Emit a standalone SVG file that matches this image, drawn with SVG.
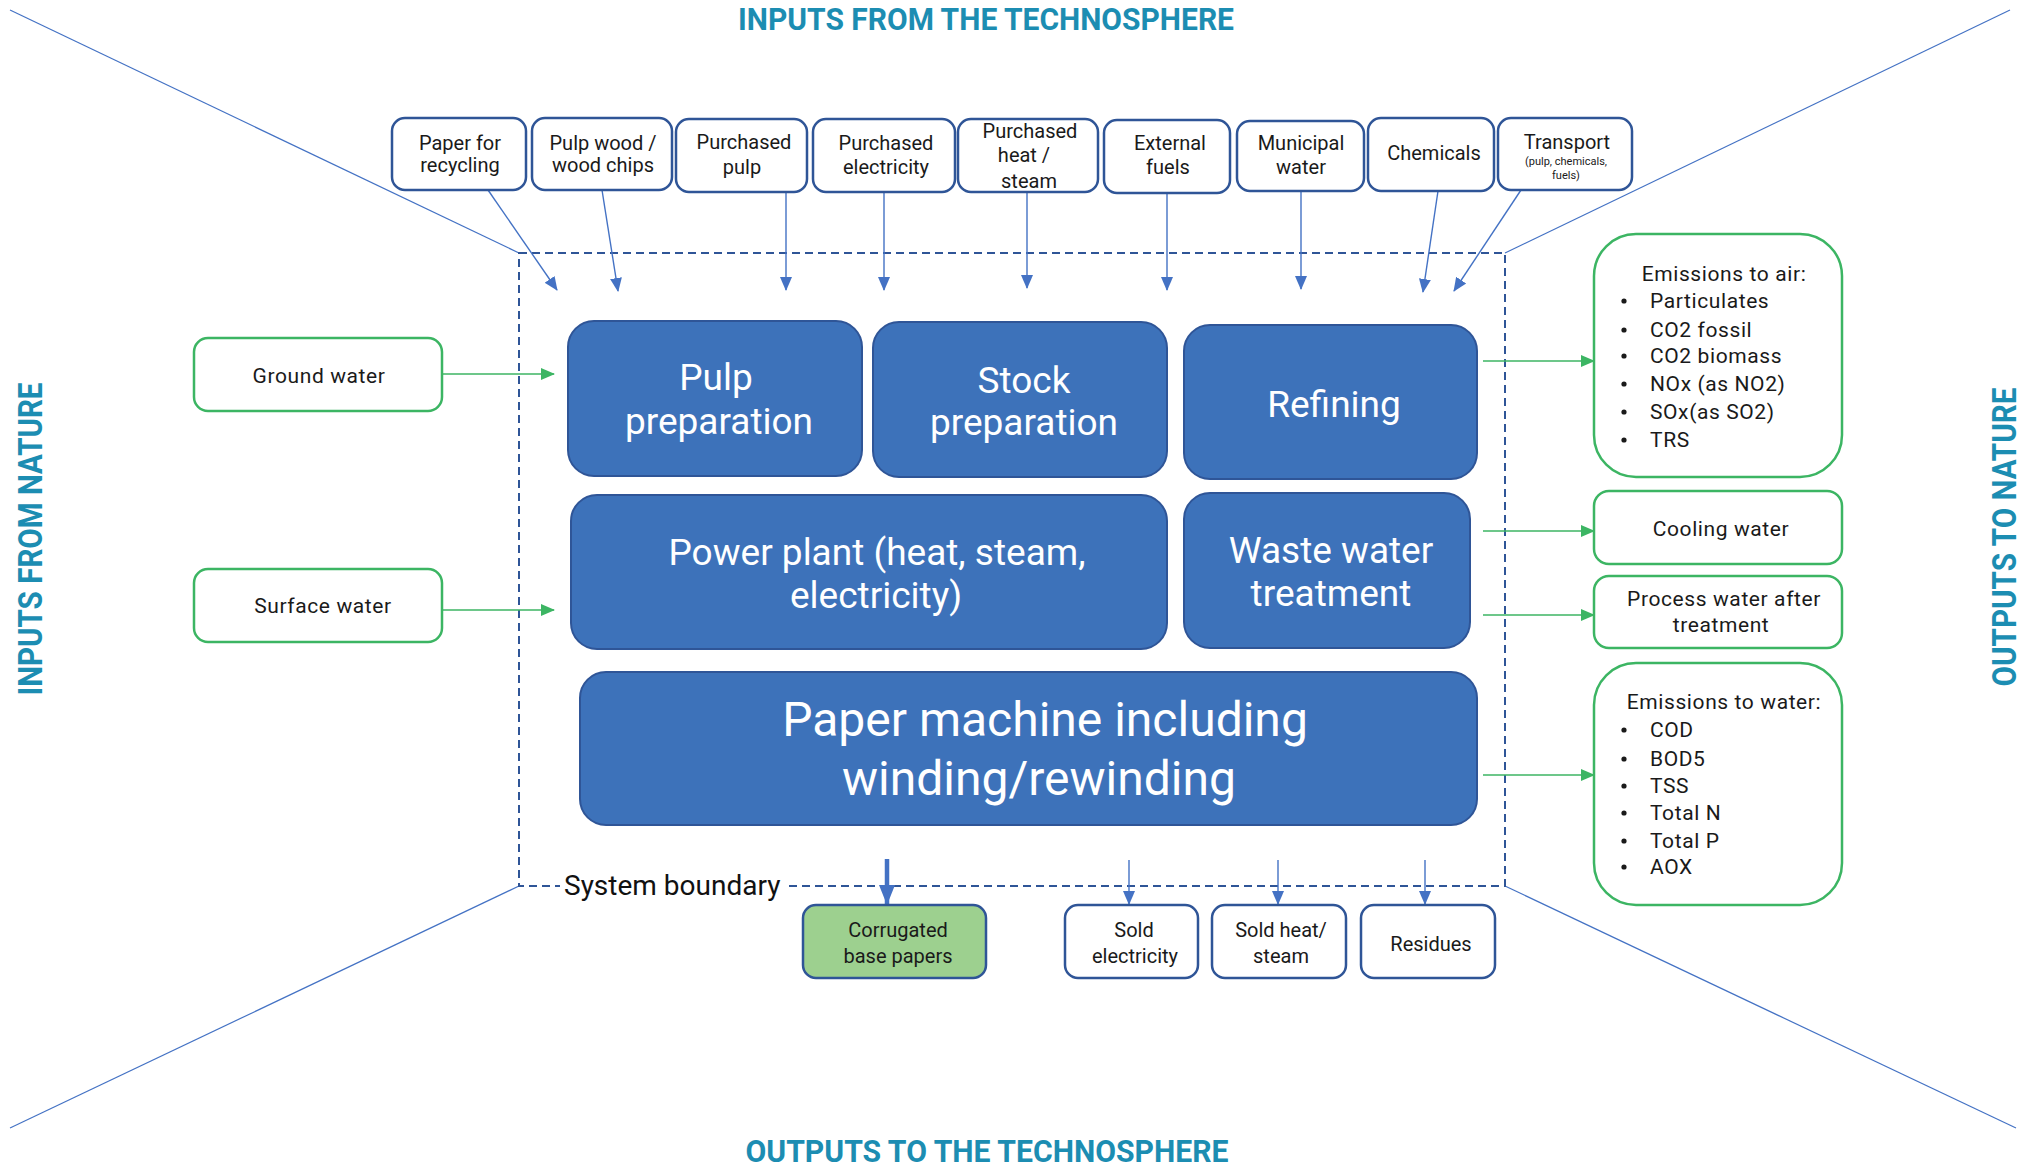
<svg xmlns="http://www.w3.org/2000/svg" width="2031" height="1168" viewBox="0 0 2031 1168">
<style>
  .title{font-family:Roboto,"Liberation Sans",sans-serif;font-weight:bold;fill:#1C8DB2;}
  .inbox{fill:#fff;stroke:#2F5597;stroke-width:2.5;}
  .lbl{font-family:Roboto,"Liberation Sans",sans-serif;font-size:20px;fill:#1a1a1a;text-anchor:middle;}
  .proc{fill:#3D72BA;stroke:#2F5597;stroke-width:2;}
  .ptxt{font-family:Roboto,"Liberation Sans",sans-serif;font-size:37px;fill:#fff;text-anchor:middle;}
  .gbox{fill:#fff;stroke:#3CB563;stroke-width:2.5;}
  .gtxt{font-family:Roboto,"Liberation Sans",sans-serif;font-size:21px;fill:#1a1a1a;letter-spacing:0.6px;}
  .blue{stroke:#4472C4;stroke-width:1.4;fill:none;}
  .green{stroke:#3CB563;stroke-width:1.6;fill:none;}
  .diag{stroke:#4472C4;stroke-width:1.2;fill:none;}
</style>
<defs>
  <marker id="ab" markerUnits="userSpaceOnUse" markerWidth="14" markerHeight="14" viewBox="0 0 14 14" refX="13" refY="7" orient="auto">
    <path d="M0,1 L14,7 L0,13 Z" fill="#4472C4"/>
  </marker>
  <marker id="abig" markerUnits="userSpaceOnUse" markerWidth="20" markerHeight="18" viewBox="0 0 20 18" refX="19" refY="9" orient="auto">
    <path d="M0,1 L20,9 L0,17 Z" fill="#4472C4"/>
  </marker>
  <marker id="ag" markerUnits="userSpaceOnUse" markerWidth="14" markerHeight="14" viewBox="0 0 14 14" refX="13" refY="7" orient="auto">
    <path d="M0,1 L14,7 L0,13 Z" fill="#3CB563"/>
  </marker>
</defs>
<rect width="2031" height="1168" fill="#fff"/>

<!-- titles -->
<text class="title" x="986" y="30" font-size="32" text-anchor="middle" textLength="496" lengthAdjust="spacingAndGlyphs">INPUTS FROM THE TECHNOSPHERE</text>
<text class="title" x="987" y="1162" font-size="32" text-anchor="middle" textLength="483" lengthAdjust="spacingAndGlyphs">OUTPUTS TO THE TECHNOSPHERE</text>
<text class="title" transform="translate(42,539) rotate(-90)" font-size="33" text-anchor="middle" textLength="313" lengthAdjust="spacingAndGlyphs">INPUTS FROM NATURE</text>
<text class="title" transform="translate(2016,537) rotate(-90)" font-size="33" text-anchor="middle" textLength="299" lengthAdjust="spacingAndGlyphs">OUTPUTS TO NATURE</text>

<!-- diagonal frame lines and system boundary -->
<g id="frame">
  <line class="diag" x1="10" y1="10" x2="519" y2="253"/>
  <line class="diag" x1="2010" y1="10" x2="1505" y2="253"/>
  <line class="diag" x1="10" y1="1128" x2="519" y2="886"/>
  <line class="diag" x1="2016" y1="1128" x2="1505" y2="886"/>
  <rect x="519" y="253" width="986" height="633" fill="none" stroke="#2F5597" stroke-width="2" stroke-dasharray="8,5"/>
  <rect x="560" y="870" width="224" height="34" fill="#fff"/>
  <text x="564" y="895" font-family="Roboto,'Liberation Sans',sans-serif" font-size="28" fill="#111">System boundary</text>
</g>

<!-- connectors -->
<g id="connectors">
  <line class="blue" x1="488" y1="190" x2="557" y2="290" marker-end="url(#ab)"/>
  <line class="blue" x1="602" y1="190" x2="618" y2="291" marker-end="url(#ab)"/>
  <line class="blue" x1="786" y1="192" x2="786" y2="290" marker-end="url(#ab)"/>
  <line class="blue" x1="884" y1="192" x2="884" y2="290" marker-end="url(#ab)"/>
  <line class="blue" x1="1027" y1="190" x2="1027" y2="288" marker-end="url(#ab)"/>
  <line class="blue" x1="1167" y1="193" x2="1167" y2="290" marker-end="url(#ab)"/>
  <line class="blue" x1="1301" y1="191" x2="1301" y2="289" marker-end="url(#ab)"/>
  <line class="blue" x1="1438" y1="191" x2="1423" y2="292" marker-end="url(#ab)"/>
  <line class="blue" x1="1521" y1="190" x2="1454" y2="291" marker-end="url(#ab)"/>

  <line class="green" x1="442" y1="374" x2="554" y2="374" marker-end="url(#ag)"/>
  <line class="green" x1="442" y1="610" x2="554" y2="610" marker-end="url(#ag)"/>

  <line class="green" x1="1483" y1="361" x2="1594" y2="361" marker-end="url(#ag)"/>
  <line class="green" x1="1483" y1="531" x2="1594" y2="531" marker-end="url(#ag)"/>
  <line class="green" x1="1483" y1="615" x2="1594" y2="615" marker-end="url(#ag)"/>
  <line class="green" x1="1483" y1="775" x2="1594" y2="775" marker-end="url(#ag)"/>

  <line x1="887" y1="859" x2="887" y2="904" stroke="#4472C4" stroke-width="4.5" marker-end="url(#abig)"/>
  <line class="blue" x1="1129" y1="860" x2="1129" y2="904" marker-end="url(#ab)"/>
  <line class="blue" x1="1278" y1="860" x2="1278" y2="904" marker-end="url(#ab)"/>
  <line class="blue" x1="1425" y1="860" x2="1425" y2="904" marker-end="url(#ab)"/>
</g>

<!-- top input nodes -->
<g id="paper-for-recycling"><rect class="inbox" x="392" y="118" width="134" height="72" rx="13"/><text class="lbl" x="460" y="150">Paper for</text><text class="lbl" x="460" y="172">recycling</text></g>
<g id="pulp-wood"><rect class="inbox" x="532" y="118" width="140" height="72" rx="13"/><text class="lbl" x="603" y="150">Pulp wood /</text><text class="lbl" x="603" y="172">wood chips</text></g>
<g id="purchased-pulp"><rect class="inbox" x="676" y="119" width="131" height="73" rx="13"/><text class="lbl" x="744" y="149">Purchased</text><text class="lbl" x="742" y="174">pulp</text></g>
<g id="purchased-electricity"><rect class="inbox" x="813" y="119" width="142" height="73" rx="13"/><text class="lbl" x="886" y="150">Purchased</text><text class="lbl" x="886" y="174">electricity</text></g>
<g id="purchased-heat"><rect class="inbox" x="958" y="119" width="140" height="73" rx="13"/><text class="lbl" x="1030" y="138">Purchased</text><text class="lbl" x="1024" y="162">heat /</text><text class="lbl" x="1029" y="188">steam</text></g>
<g id="external-fuels"><rect class="inbox" x="1104" y="120" width="126" height="73" rx="13"/><text class="lbl" x="1170" y="150">External</text><text class="lbl" x="1168" y="174">fuels</text></g>
<g id="municipal-water"><rect class="inbox" x="1237" y="121" width="127" height="70" rx="13"/><text class="lbl" x="1301" y="150">Municipal</text><text class="lbl" x="1301" y="174">water</text></g>
<g id="chemicals"><rect class="inbox" x="1368" y="118" width="126" height="73" rx="13"/><text class="lbl" x="1434" y="160">Chemicals</text></g>
<g id="transport"><rect class="inbox" x="1498" y="118" width="134" height="72" rx="13"/><text class="lbl" x="1567" y="149">Transport</text><text class="lbl" x="1566" y="165" style="font-size:11px">(pulp, chemicals,</text><text class="lbl" x="1566" y="179" style="font-size:11px">fuels)</text></g>

<!-- process nodes -->
<g id="pulp-preparation"><rect class="proc" x="568" y="321" width="294" height="155" rx="26"/><text class="ptxt" x="716" y="390">Pulp</text><text class="ptxt" x="719" y="434">preparation</text></g>
<g id="stock-preparation"><rect class="proc" x="873" y="322" width="294" height="155" rx="26"/><text class="ptxt" x="1024" y="393">Stock</text><text class="ptxt" x="1024" y="435">preparation</text></g>
<g id="refining"><rect class="proc" x="1184" y="325" width="293" height="154" rx="26"/><text class="ptxt" x="1334" y="417">Refining</text></g>
<g id="power-plant"><rect class="proc" x="571" y="495" width="596" height="154" rx="26"/><text class="ptxt" x="877" y="565">Power plant (heat, steam,</text><text class="ptxt" x="876" y="608">electricity)</text></g>
<g id="waste-water-treatment"><rect class="proc" x="1184" y="493" width="286" height="155" rx="26"/><text class="ptxt" x="1331" y="563">Waste water</text><text class="ptxt" x="1331" y="606">treatment</text></g>
<g id="paper-machine"><rect class="proc" x="580" y="672" width="897" height="153" rx="26"/><text class="ptxt" x="1045" y="736" style="font-size:48px">Paper machine including</text><text class="ptxt" x="1039" y="795" style="font-size:48px">winding/rewinding</text></g>

<!-- nature inputs -->
<g id="ground-water"><rect class="gbox" x="194" y="338" width="248" height="73" rx="14"/><text class="gtxt" x="319" y="383" text-anchor="middle">Ground water</text></g>
<g id="surface-water"><rect class="gbox" x="194" y="569" width="248" height="73" rx="14"/><text class="gtxt" x="323" y="613" text-anchor="middle">Surface water</text></g>

<!-- nature outputs -->
<g id="emissions-air">
  <rect class="gbox" x="1594" y="234" width="248" height="243" rx="42"/>
  <text class="gtxt" x="1724" y="281" text-anchor="middle">Emissions to air:</text>
  <g fill="#1a1a1a"><circle cx="1624" cy="301" r="2.6"/><circle cx="1624" cy="330" r="2.6"/><circle cx="1624" cy="356" r="2.6"/><circle cx="1624" cy="384" r="2.6"/><circle cx="1624" cy="412" r="2.6"/><circle cx="1624" cy="440" r="2.6"/></g>
  <text class="gtxt" x="1650" y="308">Particulates</text>
  <text class="gtxt" x="1650" y="337">CO2 fossil</text>
  <text class="gtxt" x="1650" y="363">CO2 biomass</text>
  <text class="gtxt" x="1650" y="391">NOx (as NO2)</text>
  <text class="gtxt" x="1650" y="419">SOx(as SO2)</text>
  <text class="gtxt" x="1650" y="447">TRS</text>
</g>
<g id="cooling-water"><rect class="gbox" x="1594" y="491" width="248" height="73" rx="15"/><text class="gtxt" x="1721" y="536" text-anchor="middle">Cooling water</text></g>
<g id="process-water"><rect class="gbox" x="1594" y="576" width="248" height="72" rx="15"/><text class="gtxt" x="1724" y="606" text-anchor="middle">Process water after</text><text class="gtxt" x="1721" y="632" text-anchor="middle">treatment</text></g>
<g id="emissions-water">
  <rect class="gbox" x="1594" y="663" width="248" height="242" rx="42"/>
  <text class="gtxt" x="1724" y="709" text-anchor="middle">Emissions to water:</text>
  <g fill="#1a1a1a"><circle cx="1624" cy="730" r="2.6"/><circle cx="1624" cy="759" r="2.6"/><circle cx="1624" cy="786" r="2.6"/><circle cx="1624" cy="813" r="2.6"/><circle cx="1624" cy="841" r="2.6"/><circle cx="1624" cy="867" r="2.6"/></g>
  <text class="gtxt" x="1650" y="737">COD</text>
  <text class="gtxt" x="1650" y="766">BOD5</text>
  <text class="gtxt" x="1650" y="793">TSS</text>
  <text class="gtxt" x="1650" y="820">Total N</text>
  <text class="gtxt" x="1650" y="848">Total P</text>
  <text class="gtxt" x="1650" y="874">AOX</text>
</g>

<!-- technosphere outputs -->
<g id="corrugated-base-papers"><rect x="803" y="905" width="183" height="73" rx="13" fill="#9DD08F" stroke="#2F5597" stroke-width="2.5"/><text class="lbl" x="898" y="937">Corrugated</text><text class="lbl" x="898" y="963">base papers</text></g>
<g id="sold-electricity"><rect class="inbox" x="1065" y="905" width="133" height="73" rx="13"/><text class="lbl" x="1134" y="937">Sold</text><text class="lbl" x="1135" y="963">electricity</text></g>
<g id="sold-heat"><rect class="inbox" x="1212" y="905" width="134" height="73" rx="13"/><text class="lbl" x="1281" y="937">Sold heat/</text><text class="lbl" x="1281" y="963">steam</text></g>
<g id="residues"><rect class="inbox" x="1361" y="905" width="134" height="73" rx="13"/><text class="lbl" x="1431" y="951">Residues</text></g>
</svg>
